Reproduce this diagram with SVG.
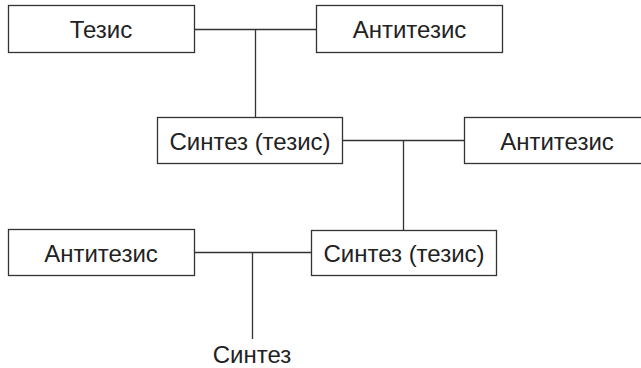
<svg xmlns="http://www.w3.org/2000/svg" width="641" height="368" viewBox="0 0 641 368">
<style>
rect{fill:#fff;stroke:#333;stroke-width:1.3}
line{stroke:#333;stroke-width:1.3}
text{font-family:"Liberation Sans",Arial,sans-serif;font-size:24px;fill:#222;text-anchor:middle}
</style>
<rect width="641" height="368" fill="#fff" style="stroke:none"/>
<g id="connectors">
<line x1="194.5" y1="29.5" x2="316.5" y2="29.5"/>
<line x1="255.5" y1="29.5" x2="255.5" y2="117.5"/>
<line x1="342.5" y1="140.5" x2="464.5" y2="140.5"/>
<line x1="403.5" y1="140.5" x2="403.5" y2="230.5"/>
<line x1="194.5" y1="252.5" x2="311.5" y2="252.5"/>
<line x1="252.5" y1="252.5" x2="252.5" y2="339"/>
</g>
<g id="n1"><rect x="8.5" y="5.5" width="186" height="47"/><text x="101" y="38">Тезис</text></g>
<g id="n2"><rect x="316.5" y="5.5" width="186" height="47"/><text x="409.5" y="38">Антитезис</text></g>
<g id="n3"><rect x="157.5" y="117.5" width="185" height="46"/><text x="250" y="149.5">Синтез (тезис)</text></g>
<g id="n4"><rect x="464.5" y="117.5" width="186" height="46"/><text x="557" y="149.5">Антитезис</text></g>
<g id="n5"><rect x="8.5" y="229.5" width="186" height="46"/><text x="101" y="261.5">Антитезис</text></g>
<g id="n6"><rect x="311.5" y="230.5" width="185" height="45"/><text x="404" y="262">Синтез (тезис)</text></g>
<g id="n7"><text x="252" y="363">Синтез</text></g>
</svg>
